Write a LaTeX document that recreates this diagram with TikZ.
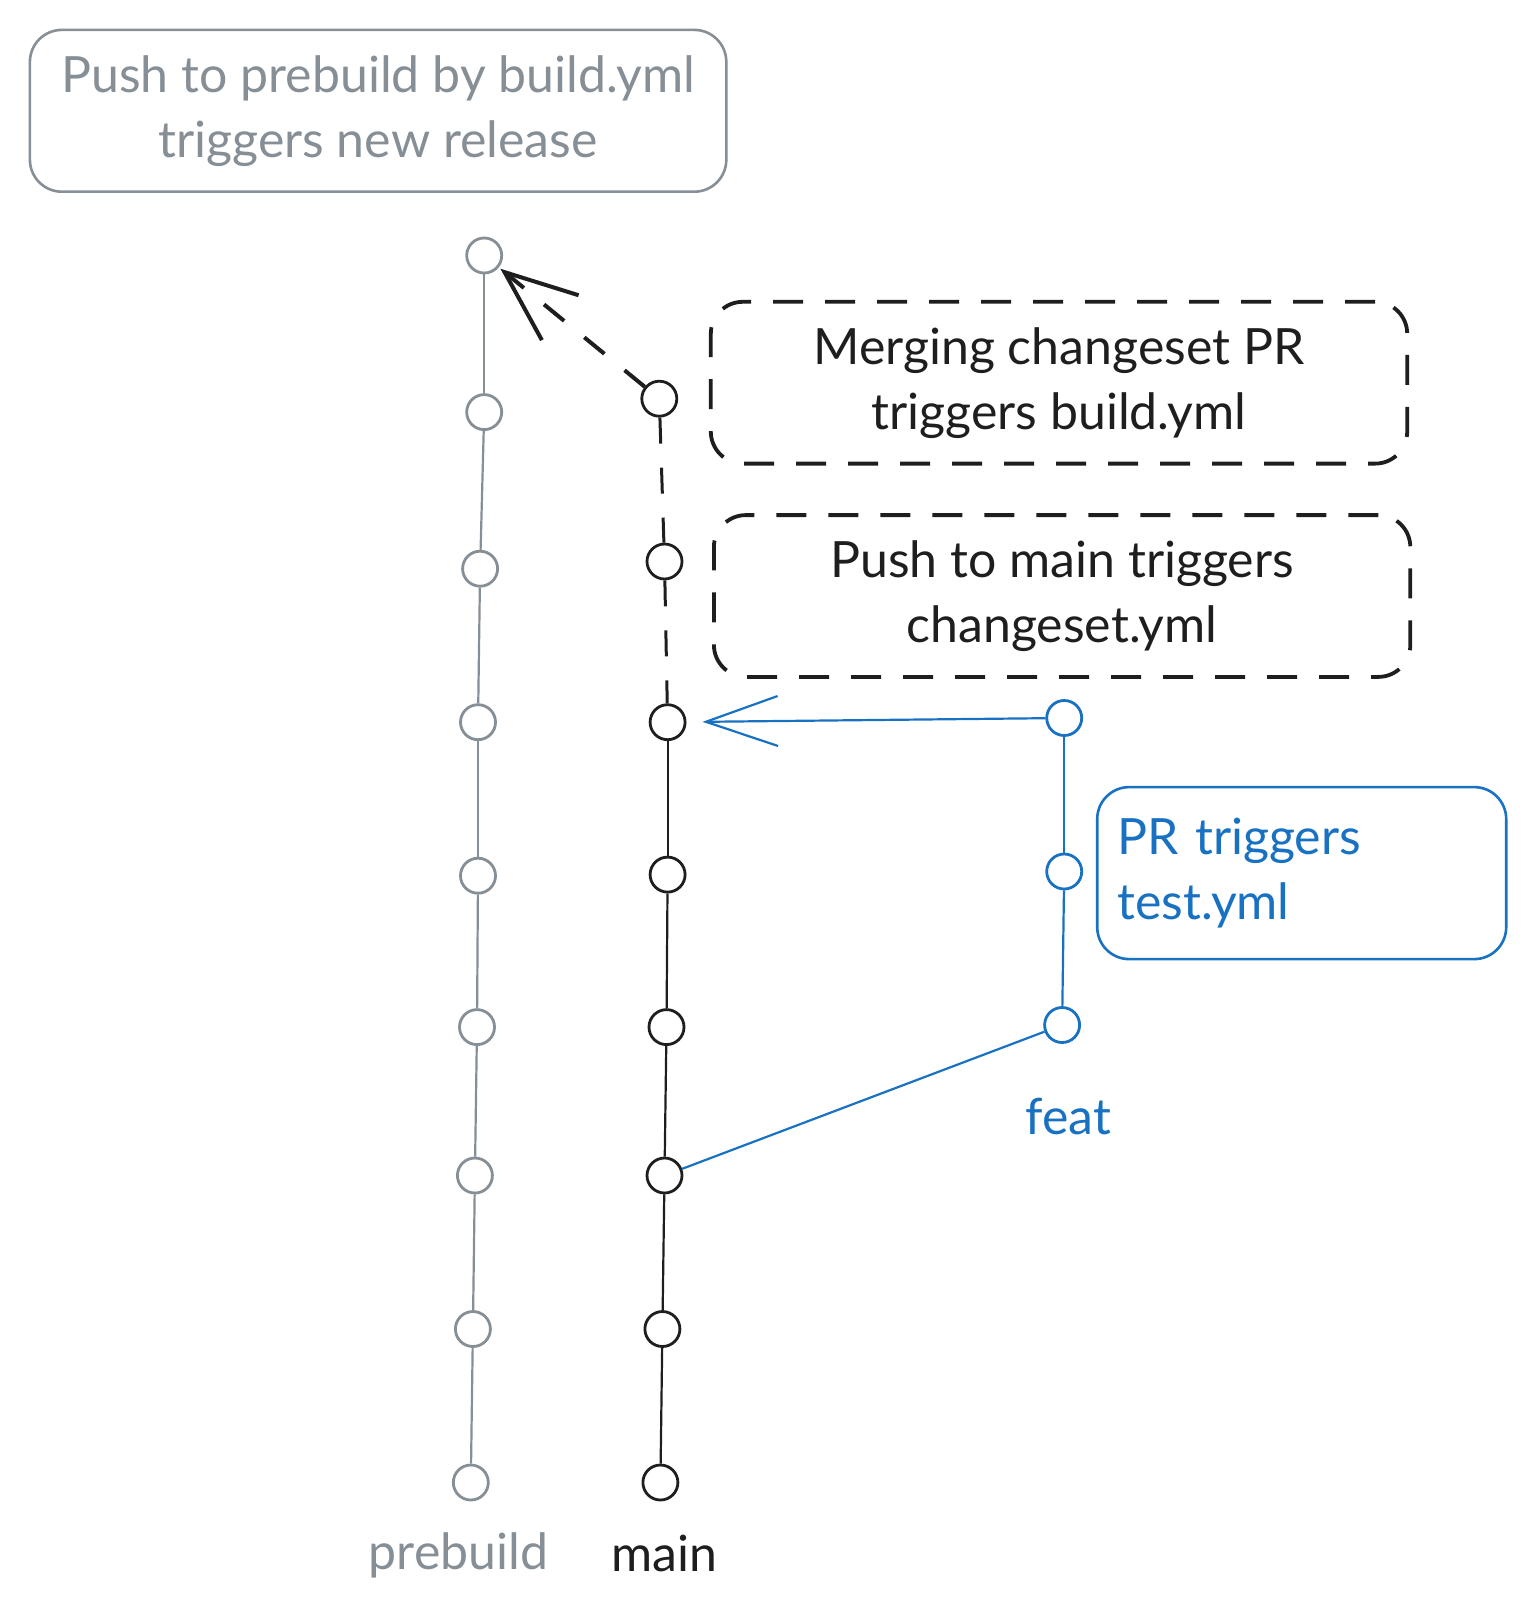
\documentclass[tikz,border=0pt]{standalone}
\usepackage{fontspec}
\setmainfont{Lato}
\usetikzlibrary{arrows.meta}

\definecolor{gitgray}{HTML}{868E96}
\definecolor{gitblack}{HTML}{1E1E1E}
\definecolor{gitblue}{HTML}{1971C2}

\tikzset{cnode/.style = {shape = circle,
                         fill = white,
                         line width = 1.4pt,
                         inner sep = 0pt,
                         minimum size = 17.5pt},
         pnode/.style = {cnode, draw = gitgray},
         mnode/.style = {cnode, draw = gitblack},
         fnode/.style = {cnode, draw = gitblue},
         txt/.style = {font = \fontsize{25}{32.5}\selectfont},
         notebox/.style = {txt,
                           draw,
                           line width = 1.3pt,
                           rounded corners = 16pt,
                           align = center,
                           inner sep = 0pt,
                           minimum width = 348.2pt,
                           minimum height = 80.9pt},
         dashbox/.style = {notebox,
                           color = gitblack,
                           line width = 1.9pt,
                           dash pattern = on 15pt off 11pt}}

\begin{document}
\begin{tikzpicture}[x = 0.5pt, y = -0.5pt]
		\useasboundingbox (0,0) rectangle (1536,1615);
		% prebuild branch
		\node[pnode] (p1) at (484.2,255.5) {};
		\node[pnode] (p2) at (484.2,412.1) {};
		\node[pnode] (p3) at (480.1,568.7) {};
		\node[pnode] (p4) at (478.0,722.2) {};
		\node[pnode] (p5) at (478.0,875.7) {};
		\node[pnode] (p6) at (477.0,1027.1) {};
		\node[pnode] (p7) at (474.9,1175.5) {};
		\node[pnode] (p8) at (472.9,1329.0) {};
		\node[pnode] (p9) at (470.8,1482.5) {};
		% main branch
		\node[mnode] (m1) at (659.3,398.7) {};
		\node[mnode] (m2) at (664.5,561.5) {};
		\node[mnode] (m3) at (667.6,722.2) {};
		\node[mnode] (m4) at (667.6,874.6) {};
		\node[mnode] (m5) at (666.5,1027.1) {};
		\node[mnode] (m6) at (664.5,1175.5) {};
		\node[mnode] (m7) at (662.4,1329.0) {};
		\node[mnode] (m8) at (660.4,1482.5) {};
		% feat branch
		\node[fnode] (f1) at (1064.2,718.0) {};
		\node[fnode] (f2) at (1064.2,871.5) {};
		\node[fnode] (f3) at (1062.1,1025.0) {};
		% branch names
		\node[txt, text = gitgray, anchor = base] (pname) at (458.4,1569) {prebuild};
		\node[txt, text = gitblack, anchor = base] (mname) at (664.5,1571) {main};
		\node[txt, text = gitblue, anchor = base] (fname) at (1068.3,1134) {feat};
		% notes
		\node[notebox, color = gitgray] (release) at (378.1,110.8)
			{Push to prebuild by build.yml\\triggers new release};
		\node[dashbox] (merge) at (1059.0,382.7)
			{Merging changeset PR\\triggers build.yml};
		\node[dashbox] (push) at (1062.1,596.0)
			{Push to main triggers\\changeset.yml};
		\node[notebox, color = gitblue, align = left, inner xsep = 10pt,
			text width = 184.5pt, minimum width = 204.5pt, minimum height = 86pt]
			(test) at (1301.7,873.1) {PR triggers\\test.yml};
		% connections
		\path[gitgray, line width = 1.1pt] (p1) edge (p2) (p2) edge (p3) (p3) edge (p4)
			(p4) edge (p5) (p5) edge (p6) (p6) edge (p7) (p7) edge (p8) (p8) edge (p9);
		\path[gitblack, line width = 1.5pt, dash pattern = on 13pt off 12pt]
			(m1) edge (m2) (m2) edge (m3);
		\path[gitblack, line width = 1.1pt] (m3) edge (m4) (m4) edge (m5) (m5) edge (m6)
			(m6) edge (m7) (m7) edge (m8);
		\path[gitblue, line width = 1.1pt] (f1) edge (f2) (f2) edge (f3) (f3) edge (m6);
		\draw[gitblue, line width = 1.1pt, -{Straight Barb[length = 36pt, width = 25pt]},
			shorten > = 8pt] (f1) -- (m3);
		\draw[gitblack, line width = 2pt, dash pattern = on 13pt off 13pt,
			-{Straight Barb[length = 36pt, width = 29pt]}, shorten > = 1pt] (m1) -- (p1);
	\end{tikzpicture}
\end{document}
